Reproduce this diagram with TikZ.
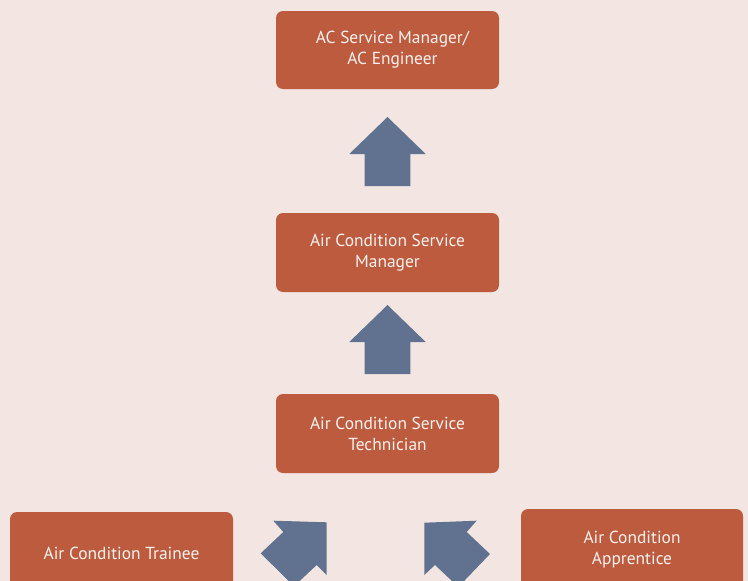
\documentclass[tikz,border=0pt]{standalone}
\usepackage{fontspec}
\setmainfont{PT Sans}
\definecolor{bgc}{HTML}{F3E6E2}
\definecolor{boxc}{HTML}{BD5B3F}
\definecolor{arrc}{HTML}{60728F}
\definecolor{txtc}{HTML}{FBF1EE}
\begin{document}
\begin{tikzpicture}[x=1pt,y=-1pt,
  rolebox/.style={draw=none,fill=boxc,rounded corners=7pt,minimum width=223pt,minimum height=78pt,
    text=txtc,align=center,font=\fontsize{17.4}{21}\selectfont,inner sep=0pt},
  blockarrow/.style={fill=arrc,draw=none}]
\useasboundingbox (0,0) rectangle (748,581);
\clip (0,0) rectangle (748,581);
\fill[bgc] (0,0) rectangle (748,581);
\node[rolebox] (eng) at (387.5,50) {\hspace*{10pt}AC Service Manager/\\\hspace*{10pt}AC Engineer};
\node[rolebox,minimum height=79pt] (mgr) at (387.5,252.5) {Air Condition Service\\Manager};
\node[rolebox,minimum height=79pt] (tech) at (387.5,433.5) {Air Condition Service\\Technician};
\node[rolebox,minimum height=82pt] (trainee) at (121.5,553) {Air Condition Trainee};
\node[rolebox,minimum width=222pt,minimum height=82pt] (appr) at (632,550) {Air Condition\\Apprentice};
% block arrows
\fill[blockarrow] (387.5,117) -- (425.7,154) -- (410.3,154) -- (410.3,186) -- (364.7,186) -- (364.7,154) -- (349.3,154) -- cycle;
\fill[blockarrow] (387.5,305) -- (425.7,342) -- (410.3,342) -- (410.3,374) -- (364.7,374) -- (364.7,342) -- (349.3,342) -- cycle;
\fill[blockarrow] (326.7,522.3) -- (326.7,575) -- (316.7,565) -- (294,586.3) -- (260.7,553.3) -- (283.3,532) -- (273.3,520.7) -- cycle;
\fill[blockarrow] (424.3,522.7) -- (476.7,520.7) -- (466.7,532) -- (490,554) -- (458.3,587) -- (435,565) -- (424.3,575) -- cycle;
\end{tikzpicture}
\end{document}
